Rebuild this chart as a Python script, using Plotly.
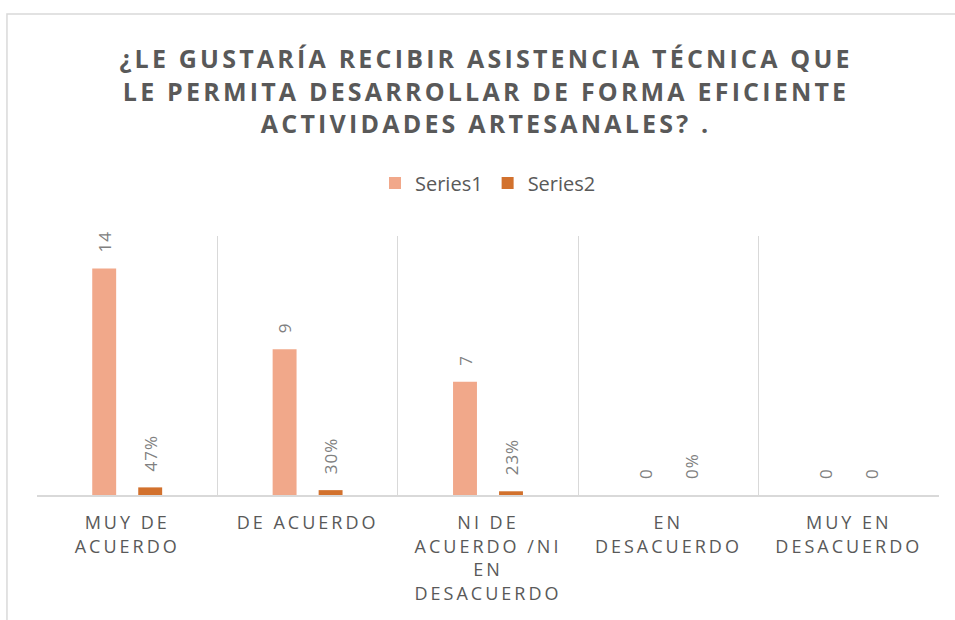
import plotly.graph_objects as go

categories = ["MUY DE<br>ACUERDO", "DE ACUERDO", "NI DE<br>ACUERDO /NI<br>EN<br>DESACUERDO",
              "EN<br>DESACUERDO", "MUY EN<br>DESACUERDO"]
series1 = [14, 9, 7, 0, 0]
series2 = [0.47, 0.30, 0.23, 0, 0]
labels1 = ["14", "9", "7", "0", "0"]
labels2 = ["47%", "30%", "23%", "0%", "0"]

title_lines = ["¿LE GUSTARÍA RECIBIR ASISTENCIA TÉCNICA QUE",
               "LE PERMITA DESARROLLAR DE FORMA EFICIENTE",
               "ACTIVIDADES ARTESANALES? ."]

C1 = "#F1A88A"
C2 = "#D2712D"
GRAY = "#595959"
LABEL_GRAY = "#808080"
LABEL_PAD = 0.8  # gap between bar top and its label, in data units


def spaced(text, px):
    # letter-spaced text, one span per line
    return "<br>".join(f'<span style="letter-spacing:{px}px">{t}</span>'
                       for t in text.split("<br>"))


fig = go.Figure()
fig.add_trace(go.Bar(name="Series1", x=categories, y=series1, marker_color=C1,
                     marker_line_width=0, offsetgroup="1"))
fig.add_trace(go.Bar(name="Series2", x=categories, y=series2, marker_color=C2,
                     marker_line_width=0, offsetgroup="2"))

# transparent bars carrying the data labels, a little above the real bars
for vals, labs, grp in [(series1, labels1, "1"), (series2, labels2, "2")]:
    fig.add_trace(go.Bar(x=categories, y=[v + LABEL_PAD for v in vals], offsetgroup=grp,
                         marker_color="rgba(0,0,0,0)", marker_line_width=0,
                         showlegend=False, hoverinfo="skip",
                         text=[spaced(l, 1) for l in labs], textposition="outside",
                         textangle=-90, constraintext="none", cliponaxis=False,
                         textfont=dict(family="Open Sans", size=17, color=LABEL_GRAY)))

fig.update_layout(
    width=955, height=620,
    barmode="group", bargap=0.49, bargroupgap=0.48,
    paper_bgcolor="white", plot_bgcolor="white",
    margin=dict(l=37, r=16, t=236, b=125, autoexpand=False),
    title=dict(text=spaced("<br>".join(title_lines), 3.2), x=0.509, xanchor="center",
               y=0.89, yanchor="top",
               font=dict(family="Open Sans", size=25, color=GRAY, weight="bold")),
    legend=dict(orientation="h", x=0.5, xanchor="center", y=1.205, yanchor="middle",
                font=dict(family="Open Sans", size=20, color=GRAY), traceorder="normal"),
    xaxis=dict(type="category", tickson="boundaries", showgrid=True, gridcolor="#D9D9D9",
               showline=True, linecolor="#D9D9D9", linewidth=1.5, ticks="",
               tickvals=categories, ticktext=[spaced(c, 3) for c in categories],
               ticklabelstandoff=11,
               tickfont=dict(family="Open Sans", size=18, color=GRAY), tickangle=0),
    yaxis=dict(range=[0, 16], showgrid=False, showticklabels=False, zeroline=False),
    shapes=[dict(type="rect", xref="paper", yref="paper", x0=-0.0333, x1=1.1,
                 y0=-0.6, y1=1.857, line=dict(color="#D9D9D9", width=1.5))],
)

fig.write_html("out.html", config={"displayModeBar": False},
               post_script="document.body.style.margin='0';")
